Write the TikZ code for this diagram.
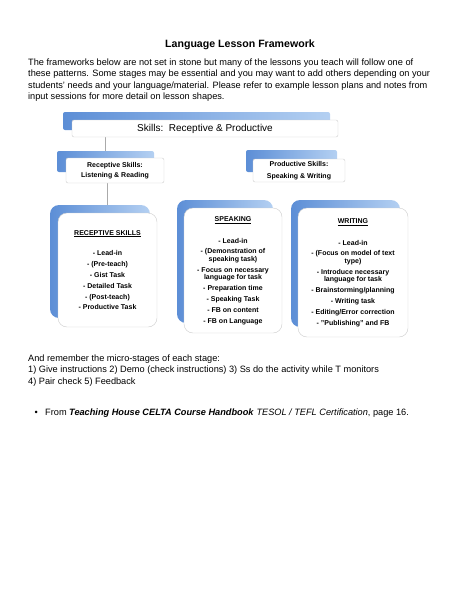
\documentclass[tikz,border=0pt]{standalone}
\usepackage{fontspec}
\setmainfont{Liberation Sans}

\definecolor{tabdark}{RGB}{92,142,214}
\definecolor{tablight}{RGB}{180,208,242}
\definecolor{edgegray}{RGB}{205,205,205}
\definecolor{linkgray}{RGB}{170,170,170}

\begin{document}
\begin{tikzpicture}[x=1pt, y=-1pt,
  tab/.style={rectangle, left color=tabdark, right color=tablight, inner sep=0pt, rounded corners=2pt},
  card/.style={rectangle, draw=edgegray, fill=white, inner sep=0pt, align=center, rounded corners=2pt},
  stagecard/.style={card, rounded corners=9pt, font=\fontsize{7}{7.6}\selectfont\bfseries},
  link/.style={draw=linkgray, line width=0.6pt},
  body/.style={font=\fontsize{9.2}{11.5}\selectfont, inner sep=0pt, align=left}
]
\useasboundingbox (0,0) rectangle (474,613);

% heading and intro
\node[font=\fontsize{10.6}{12}\selectfont\bfseries] (title) at (240,45) {Language Lesson Framework};
\node[body, anchor=north west] (intro) at (28,58.6) {The frameworks below are not set in stone but many of the lessons you teach will follow one of\\
these patterns. Some stages may be essential and you may want to add others depending on your\\
students’ needs and your language/material. Please refer to example lesson plans and notes from\\
input sessions for more detail on lesson shapes.};

% back tabs
\node[tab, minimum width=267pt, minimum height=18pt] (skillsTab) at (196.5,121) {};
\node[tab, minimum width=97pt, minimum height=21pt] (recepTab) at (105.5,161.5) {};
\node[tab, minimum width=91pt, minimum height=22pt] (prodTab) at (291.5,161) {};
\node[tab, rounded corners=9pt, minimum width=100pt, minimum height=113pt] (receptiveTab) at (100,261.5) {};
\node[tab, rounded corners=9pt, minimum width=96pt, minimum height=123pt] (speakingTab) at (225,261.5) {};
\node[tab, rounded corners=9pt, minimum width=109pt, minimum height=127pt] (writingTab) at (345.5,263.5) {};

% connectors
\coordinate (recepFoot) at ([xshift=1.5pt]recepTab.south);
\draw[link] (skillsTab.south -| recepTab.north) -- (recepTab.north);
\draw[link] (recepFoot) -- (recepFoot |- receptiveTab.north);

% front cards
\node[card, minimum width=266pt, minimum height=17pt, font=\fontsize{10}{12}\selectfont] (skills) at (205,128.5) {Skills:\ \ Receptive \& Productive};
\node[card, minimum width=98pt, minimum height=25pt, font=\fontsize{7}{10.5}\selectfont\bfseries] (recep) at (115,170.5) {Receptive Skills:\\Listening \& Reading};
\node[card, minimum width=92pt, minimum height=23pt, font=\fontsize{7}{12}\selectfont\bfseries] (prod) at (299,170.5) {Productive Skills:\\Speaking \& Writing};

\node[stagecard, minimum width=99pt, minimum height=114pt] (receptive) at (107.5,270) {\underline{RECEPTIVE SKILLS}\\[13.2pt]
- Lead-in\\[3.2pt] - (Pre-teach)\\[3.2pt] - Gist Task\\[3.2pt] - Detailed Task\\[3.2pt] - (Post-teach)\\[3.2pt] - Productive Task};
\node[stagecard, minimum width=98pt, minimum height=125pt] (speaking) at (233,270.5) {\underline{SPEAKING}\\[14pt]
- Lead-in\\[3.2pt] - (Demonstration of\\speaking task)\\[3.2pt] - Focus on necessary\\language for task\\[3.2pt] - Preparation time\\[3.2pt] - Speaking Task\\[3.2pt] - FB on content\\[3.2pt] - FB on Language};
\node[stagecard, minimum width=110pt, minimum height=129pt] (writing) at (353,272.5) {\underline{WRITING}\\[14pt]
- Lead-in\\[3.2pt] - (Focus on model of text\\type)\\[3.2pt] - Introduce necessary\\language for task\\[3.2pt] - Brainstorming/planning\\[3.2pt] - Writing task\\[3.2pt] - Editing/Error correction\\[3.2pt] - "Publishing" and FB};

% micro-stages and source
\node[body, anchor=north west] (micro) at (28,354.6) {And remember the micro-stages of each stage:\\
1) Give instructions 2) Demo (check instructions) 3) Ss do the activity while T monitors\\
4) Pair check 5) Feedback};
\node[body, anchor=north west] (source) at (45,408.6) {From \textbf{\textit{Teaching House CELTA Course Handbook}} \textit{TESOL / TEFL Certification}, page 16.};
\node[body, anchor=base east] (bullet) at ([xshift=-7pt]source.base west) {•};
\end{tikzpicture}
\end{document}
